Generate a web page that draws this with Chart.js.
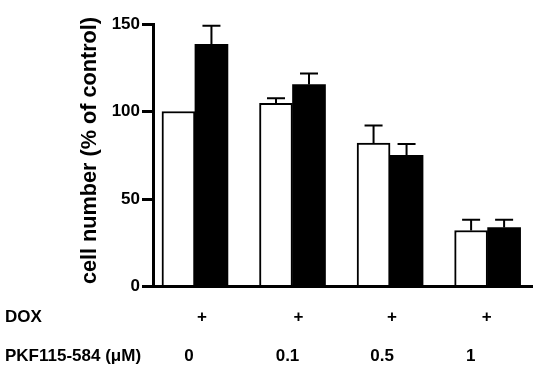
<!DOCTYPE html>
<html>
<head>
<meta charset="utf-8">
<script src="https://cdn.jsdelivr.net/npm/chart.js@4/dist/chart.umd.min.js"></script>
<style>
  html, body { margin: 0; padding: 0; background: #fff; }
  #wrap { width: 543px; height: 368px; }
</style>
</head>
<body>
<div id="wrap"><canvas id="c" width="543" height="368"></canvas></div>
<script>
// ---- data ----
const categories = ['0', '0.1', '0.5', '1'];          // PKF115-584 (µM)
const doxMarks = ['+', '+', '+', '+'];                 // DOX row
const rowTitles = ['DOX', 'PKF115-584 (\u03BCM)'];
const yTicks = [0, 50, 100, 150];
const controlValues = [100, 104.7, 81.9, 32.0];        // white bars
const controlErrors = [0, 2.9, 10.1, 6.1];
const doxValues = [138.4, 115.4, 74.9, 33.7];          // black bars
const doxErrors = [10.6, 6.3, 6.6, 4.4];
const yTitle = 'cell number (% of control)';

const FONT = '"Liberation Sans", Arial, Helvetica, sans-serif';

const errorBarPlugin = {
  id: 'errorBars',
  afterDatasetsDraw(chart, args, opts) {
    const ctx = chart.ctx;
    const ys = chart.scales.y;
    const errSets = [controlErrors, doxErrors];
    const valSets = [controlValues, doxValues];
    ctx.save();
    ctx.strokeStyle = '#000';
    ctx.lineWidth = opts.lineWidth;
    chart.data.datasets.forEach((ds, di) => {
      const meta = chart.getDatasetMeta(di);
      meta.data.forEach((bar, i) => {
        const e = errSets[di][i];
        if (!e) return;
        const yTop = ys.getPixelForValue(valSets[di][i] + e);
        ctx.beginPath();
        ctx.moveTo(bar.x, bar.y);
        ctx.lineTo(bar.x, yTop);
        ctx.moveTo(bar.x - opts.capWidth / 2, yTop);
        ctx.lineTo(bar.x + opts.capWidth / 2, yTop);
        ctx.stroke();
      });
    });
    ctx.restore();
  }
};

const rowLabelPlugin = {
  id: 'rowLabels',
  afterDraw(chart, args, opts) {
    const ctx = chart.ctx;
    const xs = chart.scales.x;
    ctx.save();
    ctx.font = 'bold 17px ' + FONT;
    ctx.fillStyle = '#000';
    ctx.textBaseline = 'alphabetic';
    ctx.textAlign = 'left';
    ctx.fillText(rowTitles[0], opts.titleX, opts.row1Y);
    ctx.fillText(rowTitles[1], opts.titleX, opts.row2Y);
    ctx.textAlign = 'center';
    categories.forEach((c, i) => {
      const cx = xs.getPixelForValue(i);
      ctx.fillText(doxMarks[i], cx + opts.plusDx[i], opts.row1Y);
      ctx.fillText(c, cx + opts.numDx[i], opts.row2Y);
    });
    // rotated y-axis title
    ctx.translate(opts.yTitleX, opts.yTitleY);
    ctx.rotate(-Math.PI / 2);
    ctx.font = 'bold 22px ' + FONT;
    ctx.textAlign = 'center';
    ctx.textBaseline = 'middle';
    ctx.fillText(yTitle, 0, 0, opts.yTitleMaxW);
    ctx.restore();
  }
};

new Chart(document.getElementById('c'), {
  type: 'bar',
  data: {
    datasets: [
      {
        label: 'control',
        data: categories.map((c, i) => ({ x: i, y: controlValues[i] })),
        backgroundColor: '#ffffff',
        borderColor: '#000000',
        borderWidth: 2,
        barThickness: 33
      },
      {
        label: 'DOX',
        data: categories.map((c, i) => ({ x: i, y: doxValues[i] })),
        backgroundColor: '#000000',
        borderColor: '#000000',
        borderWidth: 0,
        barThickness: 33
      }
    ]
  },
  plugins: [errorBarPlugin, rowLabelPlugin],
  options: {
    responsive: false,
    animation: false,
    layout: { padding: { left: 0, top: 24, right: 11, bottom: 0 } },
    plugins: {
      legend: { display: false },
      tooltip: { enabled: false },
      errorBars: { lineWidth: 2, capWidth: 18 },
      rowLabels: {
        titleX: 5, row1Y: 322, row2Y: 361,
        plusDx: [7, 6, 2, -1],
        numDx: [-6, -5, -8, -17],
        yTitleX: 90, yTitleY: 150.5, yTitleMaxW: 267
      }
    },
    scales: {
      x: {
        type: 'linear',
        min: -0.43,
        max: 3.455,
        offset: false,
        z: 1,
        ticks: { display: false, stepSize: 1, includeBounds: false },
        grid: { display: false, offset: false },
        border: { display: true, color: '#000', width: 3 },
        afterFit(s) { s.height = 81.5; }
      },
      y: {
        min: 0,
        max: 150,
        afterBuildTicks(s) { s.ticks = yTicks.map(v => ({ value: v })); },
        ticks: {
          color: '#000',
          padding: 2,
          font: { family: FONT, size: 17, weight: 'bold' }
        },
        grid: {
          display: true,
          drawOnChartArea: false,
          drawTicks: true,
          tickLength: 11,
          lineWidth: 3,
          color: '#000'
        },
        border: { display: true, color: '#000', width: 3 },
        title: { display: false },
        afterFit(s) { s.width = 153; }
      }
    }
  }
});
</script>
</body>
</html>
